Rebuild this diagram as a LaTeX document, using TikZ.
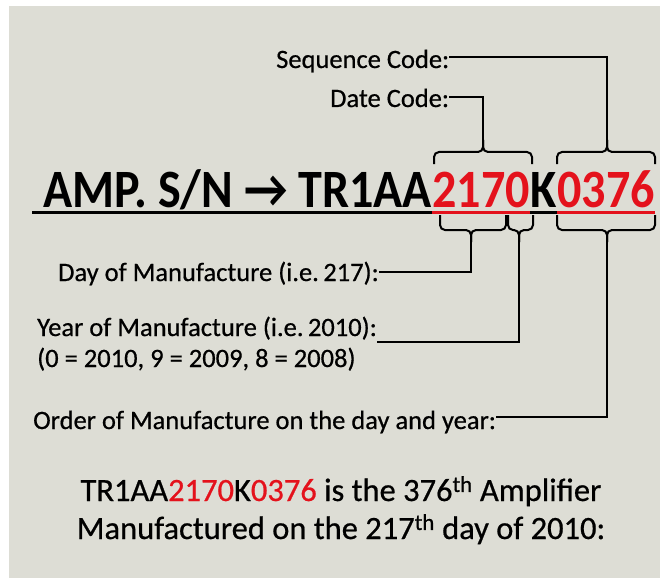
\documentclass[tikz,border=0pt]{standalone}
\usepackage{fontspec}
\setmainfont{Carlito}
\newfontfamily\lblfont[FakeBold=0.6]{Carlito}
\newfontfamily\ttlfont[FakeStretch=0.89]{Carlito}
\usetikzlibrary{calc}
\definecolor{bg}{RGB}{221,221,213}
\definecolor{snred}{RGB}{228,18,28}
\begin{document}
\begin{tikzpicture}[x=1pt,y=-1pt,
  lbl/.style={inner sep=0pt,anchor=base west,font=\lblfont\fontsize{26.5}{30}\selectfont},
  ttl/.style={inner sep=0pt,anchor=base west,font=\ttlfont\fontsize{54}{60}\selectfont\bfseries},
  btm/.style={inner sep=0pt,anchor=base,font=\lblfont\fontsize{32.5}{36}\selectfont},
  conn/.style={line width=2pt},
  brc/.style={line width=2pt,rounded corners=5pt},
  ul/.style={line width=3pt},
  ulred/.style={line width=3pt,snred}]
\useasboundingbox (0,0) rectangle (660,580);
\fill[white] (0,0) rectangle (660,580);
\fill[bg] (9,6) rectangle (660,578);

% title
\node[ttl] (t1) at (43,207) {AMP. S/N → TR1AA};
\node[ttl,text=snred] (t2) at (t1.base east) {217};
\node[ttl,text=snred] (t3) at (t2.base east) {0};
\node[ttl] (t4) at (t3.base east) {K};
\node[ttl,text=snred] (t5) at (t4.base east) {0376};
\coordinate (ulS) at (32,212);
\draw[ul] (ulS) -- (ulS -| t5.east);
\draw[ulred] (ulS -| t2.west) -- (ulS -| t3.east);
\draw[ulred] (ulS -| t5.west) -- (ulS -| t5.east);

% labels
\node[lbl] (seq) at (276,68) {Sequence Code:};
\node[lbl] (date) at (330,107) {Date Code:};
\node[lbl] (day) at (58,281) {Day of Manufacture (i.e.\,217):};
\node[lbl] (year) at (37,336) {Year of Manufacture (i.e.\,2010):};
\node[lbl] (yearb) at (37,367) {(0 = 2010, 9 = 2009, 8 = 2008)};
\node[lbl] (order) at (33,429) {Order of Manufacture on the day and year:};

% upper braces
\draw[brc] (434,164) |- (483,152) -- (483,140);
\draw[brc] (532,164) |- (483,152) -- (483,140);
\coordinate (tipD) at (483,142);
\draw[brc] (557,164) |- (607,152) -- (607,140);
\draw[brc] (655,164) |- (607,152) -- (607,140);
\coordinate (tipS) at (607,142);

% lower braces
\draw[brc] (440,215) |- (471,230) -- (471,242);
\draw[brc] (506,215) |- (471,230) -- (471,242);
\coordinate (tipA) at (471,240);
\draw[brc] (508,215) |- (519,230) -- (519,242);
\draw[brc] (533,215) |- (519,230) -- (519,242);
\coordinate (tipB) at (519,240);
\draw[brc] (557,215) |- (607,230) -- (607,242);
\draw[brc] (655,215) |- (607,230) -- (607,242);
\coordinate (tipC) at (607,240);

% connectors
\draw[conn] ([yshift=11pt]seq.base east) -| (tipS);
\draw[conn] ([yshift=10pt]date.base east) -| (tipD);
\draw[conn] ([yshift=9pt]day.base east) -| (tipA);
\draw[conn] ([yshift=-6pt]year.base east) -| (tipB);
\draw[conn] ([yshift=12pt]order.base east) -| (tipC);

% bottom text
\node[btm] (b1) at (341,501) {TR1AA\textcolor{snred}{2170}K\textcolor{snred}{0376} is the 376\textsuperscript{th} Amplifier};
\node[btm] (b2) at (341,539) {Manufactured on the 217\textsuperscript{th} day of 2010:};
\end{tikzpicture}
\end{document}
